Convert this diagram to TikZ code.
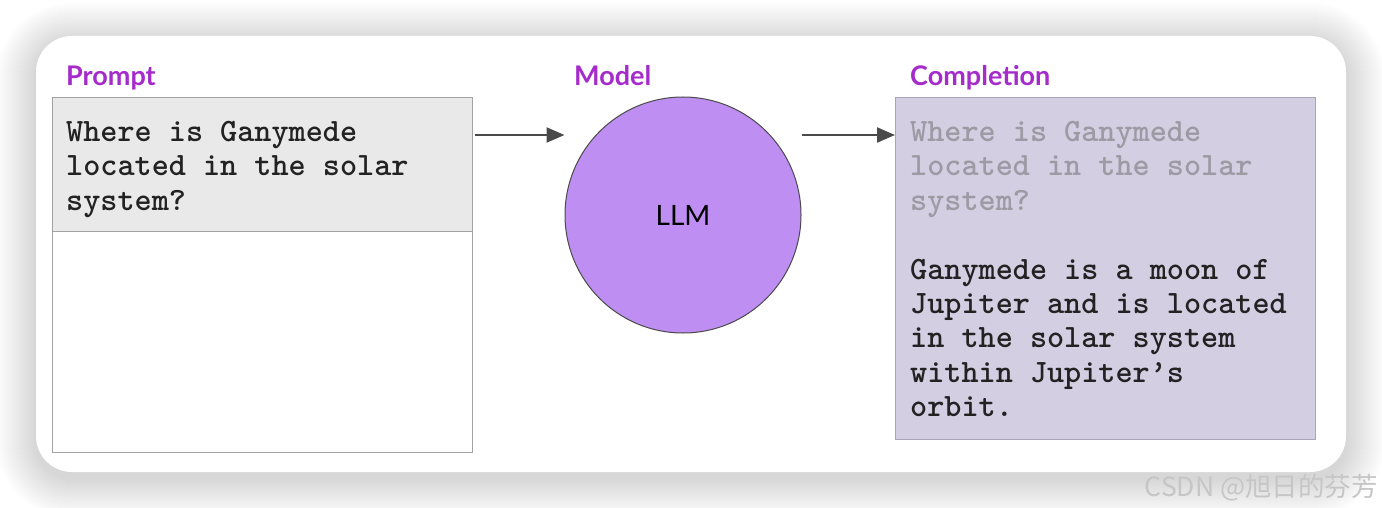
\documentclass[tikz,border=0pt]{standalone}
\usepackage{fontspec}
\setmainfont{Liberation Serif}
\newfontfamily\lato{Lato}
\newfontfamily\cjk{Noto Sans CJK SC}
\usetikzlibrary{arrows.meta}
\definecolor{labelpurple}{HTML}{A52BCB}
\definecolor{headgray}{HTML}{E9E9E9}
\definecolor{boxborder}{HTML}{A2A2A2}
\definecolor{complfill}{HTML}{D4CEE3}
\definecolor{complborder}{HTML}{A9A5B8}
\definecolor{llmfill}{HTML}{BE8EF3}
\definecolor{arrowgray}{HTML}{4A4A4A}
\definecolor{fadedtext}{HTML}{9C9AA3}
\definecolor{darktext}{HTML}{222222}
\definecolor{wmgray}{HTML}{C6C6C6}
\tikzset{
  steplabel/.style={anchor=base west, inner sep=0pt, text=labelpurple, font=\lato\bfseries\fontsize{27}{32}\selectfont},
  monotext/.style={anchor=north west, inner sep=0pt, align=left, font=\ttfamily\bfseries\fontsize{32.6}{34.4}\selectfont\addfontfeature{FakeBold=0.8}},
  flowarrow/.style={draw=arrowgray, line width=2.2pt, -{Triangle[length=18pt,width=15pt]}},
}
\begin{document}
\begin{tikzpicture}[x=1pt,y=-1pt]
\useasboundingbox (0,0) rectangle (1382,508);
\fill[white] (0,0) rectangle (1382,508);
% soft shadow of the card
\foreach \i [evaluate=\i as \r using 36+\i] in {1,...,40}
  \fill[black, opacity=0.0045, rounded corners=\r pt] (36-\i,42-\i) rectangle (1346+\i,478+\i);
% card
\fill[white, rounded corners=36pt] (36,36) rectangle (1346,472);

% labels
\node[steplabel] (lprompt) at (66,86) {Prompt};
\node[steplabel] (lmodel) at (574,86) {Model};
\node[steplabel] (lcompl) at (910,86) {Completion};

% prompt box
\node[draw=boxborder, line width=1.2pt, fill=white, anchor=north west, minimum width=420pt, minimum height=355pt, inner sep=0pt] (pbox) at (52,97) {};
\node[draw=boxborder, line width=1.2pt, fill=headgray, anchor=north west, minimum width=420pt, minimum height=134pt, inner sep=0pt] (phead) at (52,97) {};
\node[monotext, text=darktext] (ptext) at (66,121) {Where is Ganymede\\located in the solar\\system?};

% model
\node[circle, draw=arrowgray, line width=1pt, fill=llmfill, minimum size=236pt, inner sep=0pt] (llm) at (683,215) {};
\node[inner sep=0pt, font=\lato\fontsize{28}{32}\selectfont, text=black] (llmtext) at (llm.center) {LLM};

% completion box
\node[draw=complborder, line width=1.2pt, fill=complfill, anchor=north west, minimum width=420pt, minimum height=342pt, inner sep=0pt] (cbox) at (895,97) {};
\node[monotext, text=darktext] (ctext) at (910,121) {\textcolor{fadedtext}{Where is Ganymede}\\\textcolor{fadedtext}{located in the solar}\\\textcolor{fadedtext}{system?}\\[34.4pt]Ganymede is a moon of\\Jupiter and is located\\in the solar system\\within Jupiter’s\\orbit.};

% arrows
\coordinate (lvl) at (0,135);
\draw[flowarrow] (phead.east |- lvl) ++(2,0) -- (llm.west |- lvl);
\draw[flowarrow] (llm.east |- lvl) -- (cbox.west |- lvl);

% watermark
\node[anchor=base east, inner sep=0pt, text=wmgray, font=\cjk\fontsize{26.5}{30}\selectfont] (wm) at (1378,496) {CSDN @旭日的芬芳};
\end{tikzpicture}
\end{document}
